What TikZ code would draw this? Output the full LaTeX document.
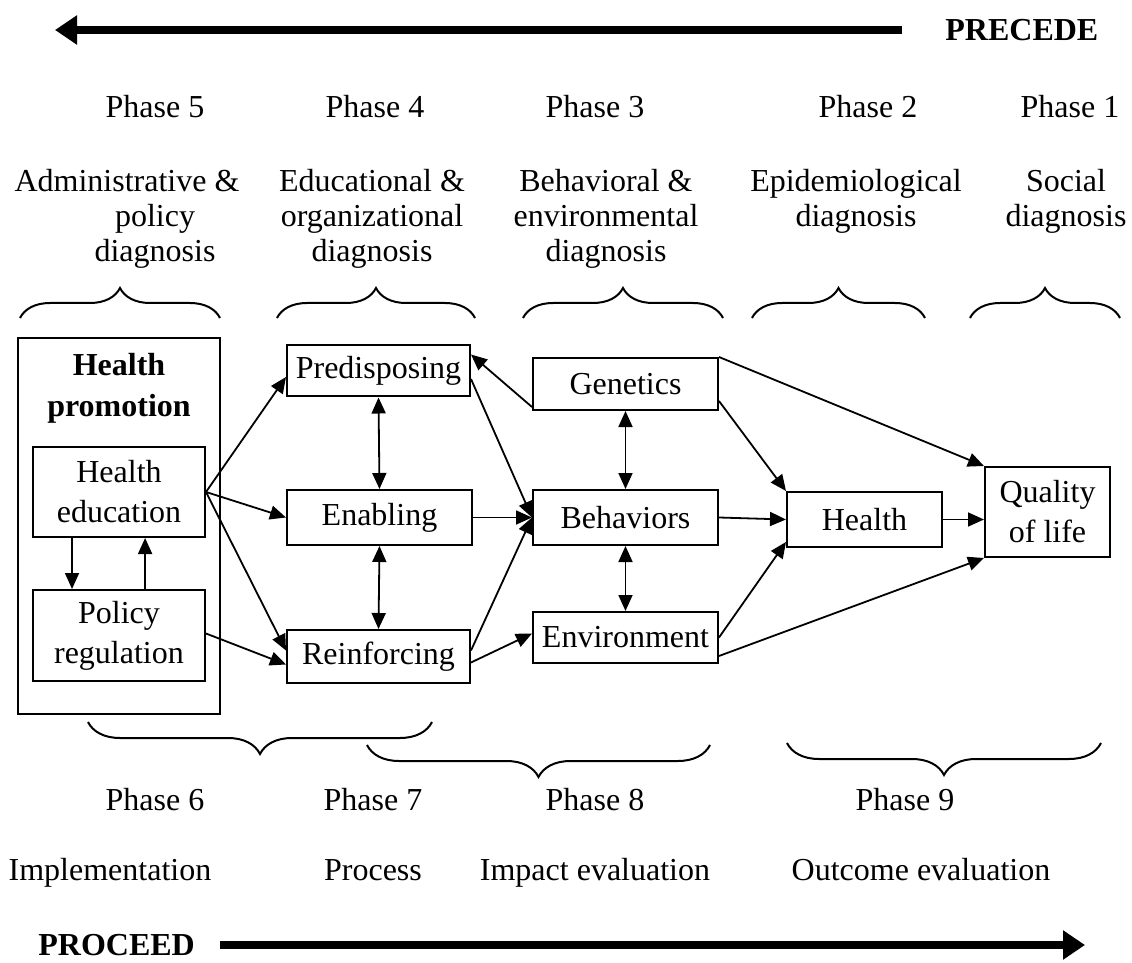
\documentclass[tikz,border=0pt]{standalone}
\usepackage{fontspec}
\setmainfont{Liberation Serif}
\usetikzlibrary{arrows.meta,calc,decorations.pathreplacing}
\tikzset{
  txt/.style={font=\fontsize{16}{17.5}\selectfont,align=center,inner sep=0pt},
  headline/.style={txt,font=\fontsize{16}{20.5}\selectfont\bfseries},
  box/.style={draw,line width=1pt,txt,font=\fontsize{16}{20}\selectfont},
  link/.style={-{Triangle[length=8pt,width=7pt]},line width=0.9pt},
  dlink/.style={{Triangle[length=8pt,width=7pt]}-{Triangle[length=8pt,width=7pt]},line width=0.9pt},
  bigarrow/.style={-{Triangle[length=11pt,width=14pt]},line width=4pt},
  upbrace/.style={decorate,decoration={brace,amplitude=15pt},line width=1pt},
  downbrace/.style={decorate,decoration={brace,amplitude=16pt},line width=1pt}
}
\begin{document}
\begin{tikzpicture}[x=0.5pt,y=-0.5pt]
  \useasboundingbox (0,0) rectangle (1132,963);
  % PRECEDE
  \node[headline,anchor=west] (precede) at (945,30) {PRECEDE};
  \coordinate (precedeEnd) at (55,30);
  \draw[bigarrow] ([xshift=-21.5pt]precede.west) -- (precedeEnd);
  \foreach \x/\n in {155/5,375/4,595/3,868/2,1070/1}
    \node[txt,anchor=base] (ph\n) at (\x,118) {Phase \n};
  \node[txt,anchor=north] (d5) at (155,169) {Administrative \&\hspace*{28pt}\\policy\\diagnosis};
  \node[txt,anchor=north] (d4) at (372,169) {Educational \&\\organizational\\diagnosis};
  \node[txt,anchor=north] (d3) at (606,169) {Behavioral \&\\environmental\\diagnosis};
  \node[txt,anchor=north] (d2) at (856,169) {Epidemiological\\diagnosis};
  \node[txt,anchor=north] (d1) at (1066,169) {Social\\diagnosis};
  \foreach \a/\b in {20/220,277/475,523/723,752/925,970/1120}
    \draw[upbrace] (\a,318) -- (\b,318);
  % boxes
  \node[box,minimum width=101pt,minimum height=188pt] (promo) at (119,526) {};
  \node[headline] (promotxt) at (119,388) {Health\\promotion};
  \node[box,minimum width=86pt,minimum height=45pt] (hedu) at (119,492) {Health\\education};
  \node[box,minimum width=86pt,minimum height=45.5pt] (preg) at (119,635.5) {Policy\\regulation};
  \node[box,minimum width=91.5pt,minimum height=25.5pt] (pred) at (378.5,371) {Predisposing};
  \node[box,minimum width=92.5pt,minimum height=27.5pt] (enab) at (379.5,517.5) {Enabling};
  \node[box,minimum width=91.5pt,minimum height=26.5pt] (reinf) at (378.5,656.5) {Reinforcing};
  \node[box,minimum width=92.5pt,minimum height=26pt] (gen) at (625.5,384) {Genetics};
  \node[box,minimum width=92.5pt,minimum height=27.5pt] (behav) at (625.5,517.5) {Behaviors};
  \node[box,minimum width=92.5pt,minimum height=25.5pt] (env) at (625.5,637.5) {Environment};
  \node[box,minimum width=77.5pt,minimum height=27.5pt] (health) at (864.5,519.5) {Health};
  \node[box,minimum width=62.5pt,minimum height=45pt] (qol) at (1047.5,512) {Quality\\of life};
  % arrows
  \draw[link] ($(hedu.south west)!0.23!(hedu.south east)$) -- ($(preg.north west)!0.23!(preg.north east)$);
  \draw[link] ($(preg.north west)!0.65!(preg.north east)$) -- ($(hedu.south west)!0.65!(hedu.south east)$);
  \draw[link] (hedu.east) -- ([yshift=-3pt]pred.west);
  \draw[link] (hedu.east) -- (enab.west);
  \draw[link] (hedu.east) -- ([yshift=3pt]reinf.west);
  \draw[link] ([yshift=1pt]preg.east) -- ([yshift=-4pt]reinf.west);
  \draw[dlink] (pred.south) -- (enab.north);
  \draw[dlink] (enab.south) -- (reinf.north);
  \draw[link] ([yshift=-4pt]pred.east) -- (behav.west);
  \draw[link] (enab.east) -- (behav.west);
  \draw[link] ([yshift=3pt]reinf.east) -- (behav.west);
  \draw[link] ([yshift=-3pt]reinf.east) -- ([yshift=2pt]env.west);
  \draw[link] ([yshift=2pt]gen.south west) -- ([yshift=-5pt]pred.north east);
  \draw[dlink] (gen.south) -- (behav.north);
  \draw[dlink] (behav.south) -- (env.north);
  \draw[link] ([yshift=5pt]gen.south east) -- (health.north west);
  \draw[link] (gen.north east) -- (qol.north west);
  \draw[link] (behav.east) -- (health.west);
  \draw[link] (health.east) -- (health.east -| qol.west);
  \draw[link] (env.east) -- ([yshift=3pt]health.south west);
  \draw[link] ([yshift=4pt]env.south east) -- (qol.south west);
  % PROCEED
  \draw[downbrace] (432,722) -- (88,722);
  \draw[downbrace] (710,745) -- (367,745);
  \draw[downbrace] (1101,743) -- (787,743);
  \foreach \x/\n in {155/6,373/7,595/8,905/9}
    \node[txt,anchor=base] (ph\n) at (\x,810) {Phase \n};
  \node[txt,anchor=base] (impl) at (110,880) {Implementation};
  \node[txt,anchor=base] (proc) at (373,880) {Process};
  \node[txt,anchor=base] (impact) at (595,880) {Impact evaluation};
  \node[txt,anchor=base] (outcome) at (921,880) {Outcome evaluation};
  \node[headline,anchor=west] (proceed) at (38,945) {PROCEED};
  \coordinate (proceedEnd) at (1085,945);
  \draw[bigarrow] ([xshift=12.5pt]proceed.east) -- (proceedEnd);
\end{tikzpicture}
\end{document}
